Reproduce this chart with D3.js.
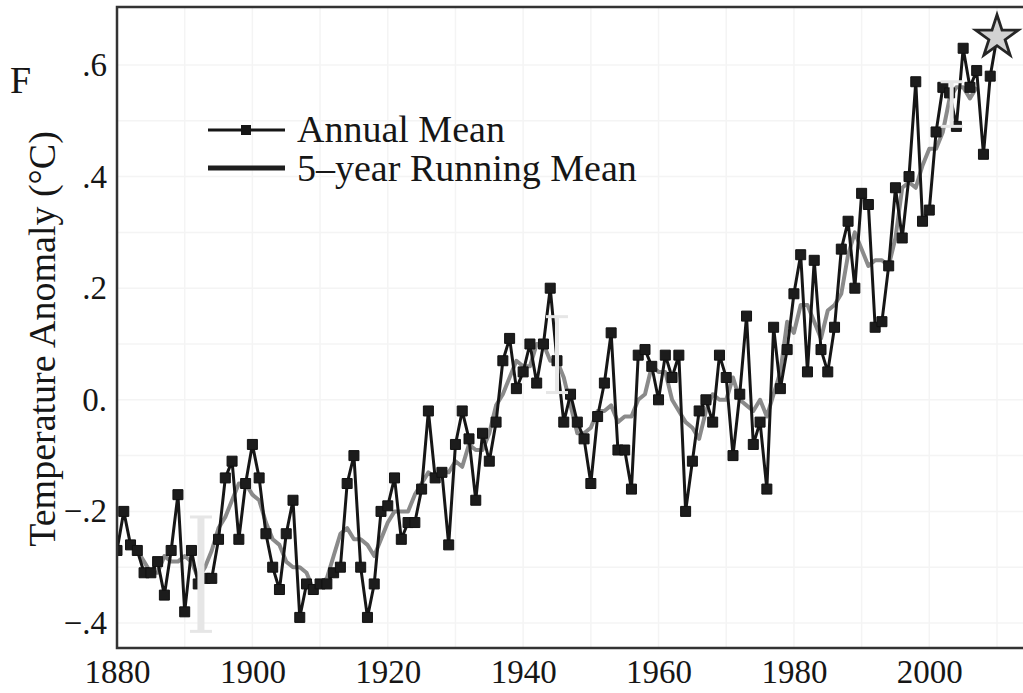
<!DOCTYPE html>
<html>
<head>
<meta charset="utf-8">
<script src="https://cdn.jsdelivr.net/npm/d3@7"></script>
<style>
  html, body { margin: 0; padding: 0; background: #fff; }
  svg { display: block; }
</style>
</head>
<body>
<svg id="chart" width="1023" height="693"></svg>
<script>
// GISS global annual mean, 1880..2009
const firstYear = 1880
const annualMean = [
  -0.27, -0.20, -0.26, -0.27, -0.31, -0.31, -0.29, -0.35, -0.27, -0.17,
  -0.38, -0.27, -0.33, -0.32, -0.32, -0.25, -0.14, -0.11, -0.25, -0.15,
  -0.08, -0.14, -0.24, -0.30, -0.34, -0.24, -0.18, -0.39, -0.33, -0.34,
  -0.33, -0.33, -0.31, -0.30, -0.15, -0.10, -0.30, -0.39, -0.33, -0.20,
  -0.19, -0.14, -0.25, -0.22, -0.22, -0.16, -0.02, -0.14, -0.13, -0.26,
  -0.08, -0.02, -0.07, -0.18, -0.06, -0.11, -0.04, 0.07, 0.11, 0.02,
  0.05, 0.10, 0.03, 0.10, 0.20, 0.07, -0.04, 0.01, -0.04, -0.07,
  -0.15, -0.03, 0.03, 0.12, -0.09, -0.09, -0.16, 0.08, 0.09, 0.06,
  0.00, 0.08, 0.04, 0.08, -0.20, -0.11, -0.02, 0.00, -0.04, 0.08,
  0.04, -0.10, 0.01, 0.15, -0.08, -0.04, -0.16, 0.13, 0.02, 0.09,
  0.19, 0.26, 0.05, 0.25, 0.09, 0.05, 0.13, 0.27, 0.32, 0.20,
  0.37, 0.35, 0.13, 0.14, 0.24, 0.38, 0.29, 0.40, 0.57, 0.32,
  0.34, 0.48, 0.56, 0.55, 0.49, 0.63, 0.56, 0.59, 0.44, 0.58
]

// 2010 value, drawn as the star
const starYear = 2010
const starValue = 0.65

// 5-year running mean, 1882..2007
const runningFirstYear = 1882
const runningMean = [
  -0.26, -0.27, -0.29, -0.31, -0.31, -0.28, -0.29, -0.29, -0.28, -0.29,
  -0.32, -0.30, -0.27, -0.23, -0.21, -0.18, -0.15, -0.15, -0.17, -0.18,
  -0.22, -0.25, -0.26, -0.29, -0.30, -0.30, -0.31, -0.34, -0.33, -0.32,
  -0.28, -0.24, -0.23, -0.25, -0.25, -0.26, -0.28, -0.25, -0.22, -0.20,
  -0.20, -0.20, -0.17, -0.15, -0.13, -0.14, -0.13, -0.13, -0.11, -0.12,
  -0.08, -0.09, -0.09, -0.06, -0.01, 0.01, 0.04, 0.07, 0.06, 0.06,
  0.10, 0.10, 0.07, 0.07, 0.04, -0.01, -0.06, -0.06, -0.05, -0.02,
  -0.02, -0.01, -0.04, -0.03, -0.03, 0.00, 0.01, 0.06, 0.05, 0.05,
  0.00, -0.02, -0.04, -0.05, -0.07, -0.02, 0.01, 0.00, 0.00, 0.04,
  0.00, -0.01, -0.02, 0.00, -0.03, 0.01, 0.05, 0.14, 0.12, 0.17,
  0.17, 0.14, 0.11, 0.16, 0.17, 0.19, 0.26, 0.30, 0.27, 0.24,
  0.25, 0.25, 0.24, 0.29, 0.38, 0.39, 0.38, 0.42, 0.45, 0.45,
  0.48, 0.54, 0.56, 0.56, 0.54, 0.56
]

// uncertainty bars (light grey)
const errorYears = [1892.4, 1945.0, 2003.3]
const errorLow = [-0.415, 0.013, 0.49]
const errorHigh = [-0.21, 0.149, 0.57]
const errorWidth = [7, 4, 4]

// axis ticks
const xTicks = [1880, 1900, 1920, 1940, 1960, 1980, 2000]
const yTicks = [0.6, 0.4, 0.2, 0, -0.2, -0.4]
const yTickLabels = ['.6', '.4', '.2', '0.', '\u2212.2', '\u2212.4']

const W = 1023
const H = 693
const plot = { left: 117, top: 7, bottom: 648 }
const SERIF = '"Liberation Serif", "Times New Roman", "DejaVu Serif", serif'
const INK = '#161616'

const svg = d3.select('#chart')
svg.append('rect').attr('width', W).attr('height', H).attr('fill', '#fff')

const x = d3.scaleLinear().domain([1880, 2010]).range([117, 997])
const y = d3.scaleLinear().domain([-0.4, 0.6]).range([623, 65])

const annual = annualMean.map((v, i) => ({ year: firstYear + i, value: v }))
const annualLine = annual.concat([{ year: starYear, value: starValue }])
const running = runningMean.map((v, i) => ({ year: runningFirstYear + i, value: v }))

svg.append('defs').append('clipPath').attr('id', 'plot-clip')
  .append('rect')
  .attr('x', plot.left).attr('y', plot.top)
  .attr('width', W - plot.left).attr('height', plot.bottom - plot.top)

// very faint grid (scanned look)
const grid = svg.append('g').attr('stroke', '#f4f4f4').attr('stroke-width', 1.5)
grid.selectAll('line.gx')
  .data(d3.range(1890, 2011, 10))
  .join('line')
  .attr('x1', d => x(d)).attr('x2', d => x(d))
  .attr('y1', plot.top).attr('y2', plot.bottom)
grid.selectAll('line.gy')
  .data(d3.range(-0.4, 0.61, 0.1))
  .join('line')
  .attr('x1', plot.left).attr('x2', W)
  .attr('y1', d => y(d)).attr('y2', d => y(d))

const g = svg.append('g').attr('clip-path', 'url(#plot-clip)')

const line = d3.line().x(d => x(d.year)).y(d => y(d.value))

// 5-year running mean
g.append('path')
  .datum(running)
  .attr('d', line)
  .attr('fill', 'none')
  .attr('stroke', '#8a8a8a')
  .attr('stroke-width', 4)
  .attr('stroke-linejoin', 'round')

// annual mean
g.append('path')
  .datum(annualLine)
  .attr('d', line)
  .attr('fill', 'none')
  .attr('stroke', INK)
  .attr('stroke-width', 3)
  .attr('stroke-linejoin', 'round')

g.append('g')
  .selectAll('path')
  .data(annual)
  .join('path')
  .attr('transform', d => `translate(${x(d.year)},${y(d.value)})`)
  .attr('d', d3.symbol(d3.symbolSquare, 100))
  .attr('fill', '#1c1c1c')
  .attr('stroke', '#111')
  .attr('stroke-width', 1)

// uncertainty bars, drawn over the lines
const errG = g.append('g').attr('stroke', '#e6e6e6')
errorYears.forEach((yr, i) => {
  const cx = x(yr)
  errG.append('line')
    .attr('x1', cx).attr('x2', cx)
    .attr('y1', y(errorHigh[i])).attr('y2', y(errorLow[i]))
    .attr('stroke-width', errorWidth[i])
  errG.append('line')
    .attr('x1', cx - 11).attr('x2', cx + 11)
    .attr('y1', y(errorHigh[i])).attr('y2', y(errorHigh[i]))
    .attr('stroke-width', 3)
  errG.append('line')
    .attr('x1', cx - 11).attr('x2', cx + 11)
    .attr('y1', y(errorLow[i])).attr('y2', y(errorLow[i]))
    .attr('stroke-width', 3)
})

// 2010 star
g.append('path')
  .attr('transform', `translate(${x(starYear)},${y(starValue)})`)
  .attr('d', d3.symbol(d3.symbolStar, 560))
  .attr('fill', '#d2d2d2')
  .attr('stroke', '#262626')
  .attr('stroke-width', 2.8)
  .attr('stroke-linejoin', 'miter')

// frame
svg.append('rect')
  .attr('x', plot.left).attr('y', plot.top)
  .attr('width', W - plot.left + 20).attr('height', plot.bottom - plot.top)
  .attr('fill', 'none')
  .attr('stroke', '#333')
  .attr('stroke-width', 2.5)

// axes
const xAxis = svg.append('g')
  .attr('transform', `translate(0,${plot.bottom})`)
  .call(d3.axisBottom(x).tickValues(xTicks).tickFormat(d3.format('d')).tickSize(0).tickPadding(12))
xAxis.select('.domain').remove()
xAxis.selectAll('text')
  .attr('font-family', SERIF)
  .attr('font-size', 33)
  .attr('fill', INK)

const yAxis = svg.append('g')
  .attr('transform', `translate(${plot.left},0)`)
  .call(d3.axisLeft(y).tickValues(yTicks).tickFormat((d, i) => yTickLabels[i]).tickSize(0).tickPadding(10))
yAxis.select('.domain').remove()
yAxis.selectAll('text')
  .attr('font-family', SERIF)
  .attr('font-size', 33)
  .attr('fill', INK)

// axis title
svg.append('text')
  .attr('transform', 'translate(55,339) rotate(-90)')
  .attr('text-anchor', 'middle')
  .attr('font-family', SERIF)
  .attr('font-size', 38)
  .attr('fill', INK)
  .text('Temperature Anomaly (\u00B0C)')

// panel letter
svg.append('text')
  .attr('x', 10).attr('y', 93)
  .attr('font-family', SERIF)
  .attr('font-size', 38)
  .attr('fill', INK)
  .text('F')

// legend
const legend = svg.append('g')
legend.append('line')
  .attr('x1', 208).attr('x2', 285).attr('y1', 130).attr('y2', 130)
  .attr('stroke', INK).attr('stroke-width', 3)
legend.append('rect')
  .attr('x', 241).attr('y', 125).attr('width', 10).attr('height', 10)
  .attr('fill', INK)
legend.append('text')
  .attr('x', 297).attr('y', 142)
  .attr('font-family', SERIF).attr('font-size', 38).attr('fill', INK)
  .text('Annual Mean')
legend.append('line')
  .attr('x1', 208).attr('x2', 285).attr('y1', 168).attr('y2', 168)
  .attr('stroke', '#1e1e1e').attr('stroke-width', 5)
legend.append('text')
  .attr('x', 297).attr('y', 181)
  .attr('font-family', SERIF).attr('font-size', 38).attr('fill', INK)
  .text('5\u2013year Running Mean')
</script>
</body>
</html>
